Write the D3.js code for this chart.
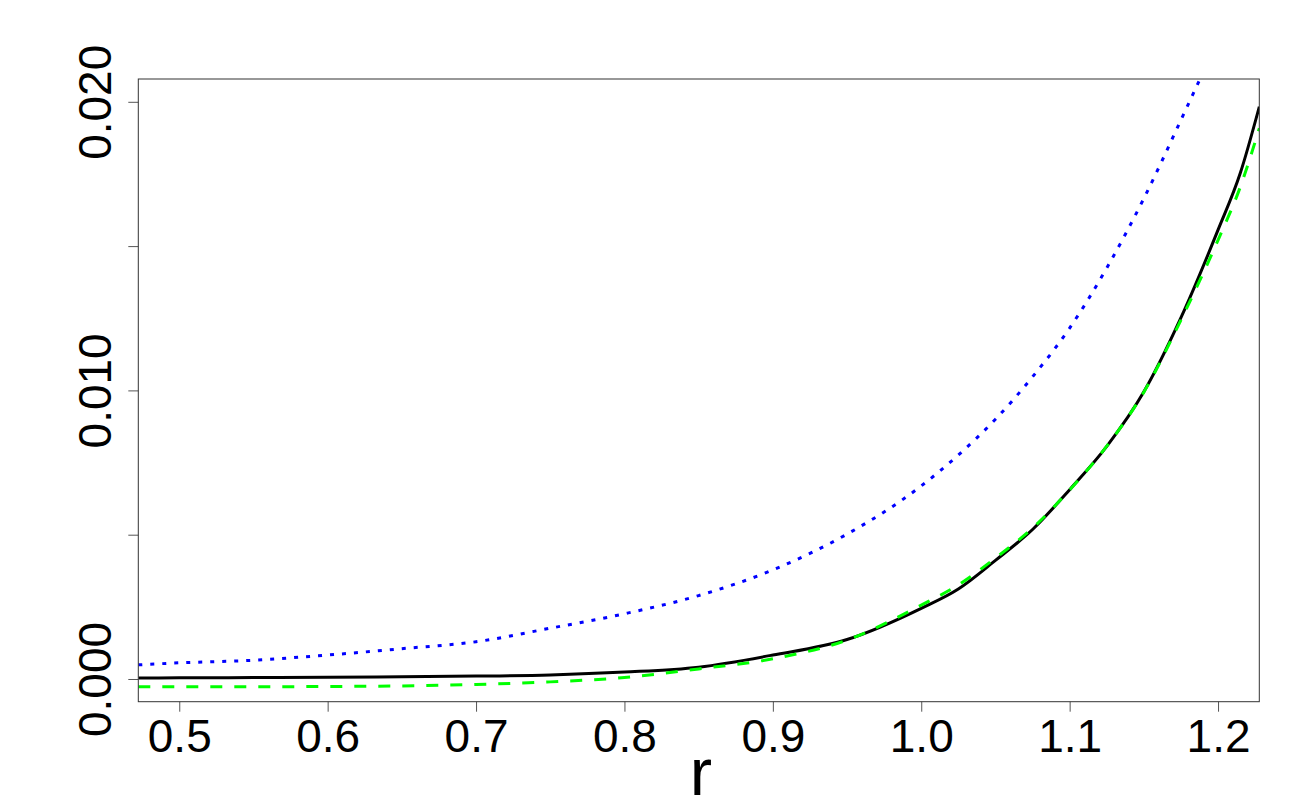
<!DOCTYPE html>
<html>
<head>
<meta charset="utf-8">
<script src="https://cdn.jsdelivr.net/npm/d3@7"></script>
<style>
html,body{margin:0;padding:0;background:#fff;}
svg{display:block;}
text{font-family:"Liberation Sans",Arial,sans-serif;fill:#000;}
</style>
</head>
<body>
<svg id="chart" width="1300" height="800"></svg>
<script>
// ---- data ----
const rValues = [0.4724, 0.5, 0.55, 0.6, 0.65, 0.7, 0.75, 0.8, 0.85, 0.9, 0.95, 1.0, 1.025, 1.05, 1.075, 1.1, 1.125, 1.15, 1.175, 1.2, 1.215, 1.2278];
const blueSeries = [0.00049, 0.00056, 0.00065, 0.00083, 0.00105, 0.00129, 0.00176, 0.00226, 0.00289, 0.00378, 0.00502, 0.00669, 0.00776, 0.00900, 0.01047, 0.01216, 0.01424, 0.01665, 0.01937, 0.0222, 0.0241, 0.0261];
const blackSeries = [0.000035, 0.00004, 0.00005, 0.00006, 0.00008, 0.0001, 0.00014, 0.00024, 0.00041, 0.00083, 0.00137, 0.00245, 0.00312, 0.00411, 0.00518, 0.00656, 0.00806, 0.00995, 0.01252, 0.01556, 0.01753, 0.01983];
const greenSeries = [-0.00027, -0.00027, -0.00027, -0.00026, -0.00024, -0.00019, -0.0001, 0.00005, 0.00035, 0.0007, 0.00135, 0.00256, 0.00326, 0.00419, 0.00523, 0.00655, 0.00807, 0.00994, 0.01244, 0.01521, 0.01705, 0.01908];
const xTickValues = [0.5, 0.6, 0.7, 0.8, 0.9, 1.0, 1.1, 1.2];
const xTickLabels = ["0.5", "0.6", "0.7", "0.8", "0.9", "1.0", "1.1", "1.2"];
const yTickValues = [0, 0.005, 0.01, 0.015, 0.02];
const yTickLabels = ["0.000", "", "0.010", "", "0.020"];
const xTitle = "r";

// ---- layout ----
const svg = d3.select("#chart");
const L = 138.3, R = 1259.3, T = 79, B = 701.7;
const x = d3.scaleLinear().domain([0.4724, 1.2278]).range([L, R]);
const y = d3.scaleLinear().domain([-0.000787, 0.02079]).range([B, T]);

svg.append("defs").append("clipPath").attr("id", "clip")
  .append("rect").attr("x", L).attr("y", T).attr("width", R - L).attr("height", B - T);

const line = d3.line().curve(d3.curveMonotoneX).x(d => x(d[0])).y(d => y(d[1]));
const g = svg.append("g").attr("clip-path", "url(#clip)");

g.append("path").datum(rValues.map((r, i) => [r, blueSeries[i]]))
  .attr("d", line).attr("fill", "none").attr("stroke", "#0000ff")
  .attr("stroke-width", 3).attr("stroke-dasharray", "4,8");
g.append("path").datum(rValues.map((r, i) => [r, blackSeries[i]]))
  .attr("d", line).attr("fill", "none").attr("stroke", "#000")
  .attr("stroke-width", 3);
g.append("path").datum(rValues.map((r, i) => [r, greenSeries[i]]))
  .attr("d", line).attr("fill", "none").attr("stroke", "#00ff00")
  .attr("stroke-width", 3).attr("stroke-dasharray", "12,12");

// axes
const xAxis = d3.axisBottom(x).tickValues(xTickValues).tickSize(10).tickSizeOuter(0)
  .tickFormat((d, i) => xTickLabels[i]);
const gx = svg.append("g").attr("transform", `translate(0,${B})`).call(xAxis);
gx.select(".domain").remove();
gx.selectAll(".tick line").attr("stroke", "#555").attr("stroke-width", 1);
gx.selectAll(".tick text").attr("font-size", 46).attr("dy", null).attr("y", 50)
  .style("font-family", "'Liberation Sans', Arial, sans-serif");

const yAxis = d3.axisLeft(y).tickValues(yTickValues).tickSize(10).tickSizeOuter(0)
  .tickFormat((d, i) => yTickLabels[i]);
const gy = svg.append("g").attr("transform", `translate(${L},0)`).call(yAxis);
gy.select(".domain").remove();
gy.selectAll(".tick line").attr("stroke", "#555").attr("stroke-width", 1);
gy.selectAll(".tick text").attr("font-size", 46)
  .attr("x", null).attr("dy", null)
  .attr("text-anchor", "middle")
  .attr("transform", "translate(-27,0) rotate(-90)")
  .style("font-family", "'Liberation Sans', Arial, sans-serif");

// box
svg.append("rect").attr("x", L).attr("y", T).attr("width", R - L).attr("height", B - T)
  .attr("fill", "none").attr("stroke", "#333").attr("stroke-width", 1);

// x title
svg.append("text").attr("x", (L + R) / 2 + 2).attr("y", 795).attr("text-anchor", "middle")
  .attr("font-size", 67).text(xTitle);
</script>
</body>
</html>
